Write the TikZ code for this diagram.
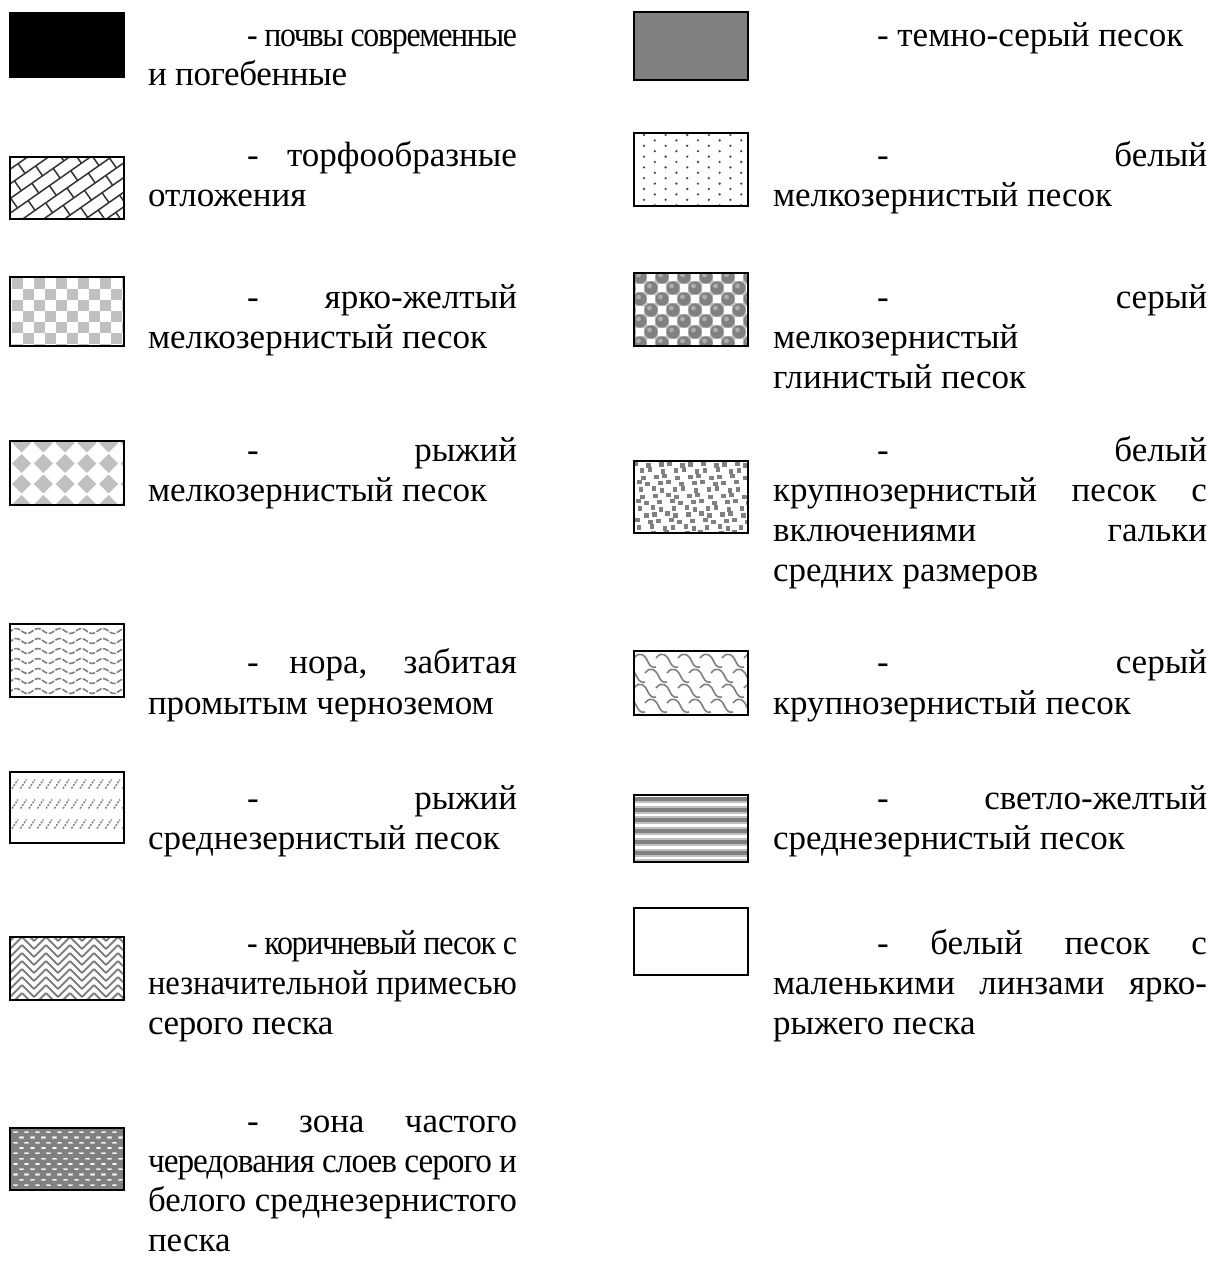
\documentclass[tikz,border=0pt]{standalone}
\usepackage{graphicx}
\usepackage{fontspec}
\setmainfont{Liberation Serif}
\definecolor{dg}{HTML}{808080}
\definecolor{lg}{HTML}{C0C0C0}
\tikzset{
 txt/.style={anchor=base west, inner sep=0pt, outer sep=0pt, font=\fontsize{17.5}{20}\selectfont},
 swb/.style={draw=black, line width=1pt},
}
\newsavebox\tbox
\newcommand\fitl[2]{\sbox\tbox{#2}\ifdim\wd\tbox>#1pt\relax\resizebox{#1pt}{\height}{#2}\else\makebox[#1pt][s]{#2}\fi}
\newcommand\jl[5]{\node[txt] (#1) at (#2,#3) {\fitl{#4}{#5}};}
\newcommand\pl[4]{\node[txt] (#1) at (#2,#3) {#4};}
\newcommand\cnd[1]{\addfontfeature{LetterSpace=#1}}
\begin{document}
\begin{tikzpicture}[x=0.5pt,y=-0.5pt]
\useasboundingbox[fill=white] (0,0) rectangle (1218,1288);

% ---------- left column swatches
\fill[black] (10,13) rectangle (124,77);
\draw[swb] (10,13) rectangle (124,77);

% L2 peat-like (diagonal bricks)
\begin{scope}
\clip (10,157) rectangle (124,219);
\begin{scope}[shift={(67,188)}, rotate=35]
 \foreach \k in {-9,...,9} {
   \draw[black!80, line width=0.75pt] (-130,\k*12) -- (130,\k*12);
   \foreach \m in {-6,...,6} {
     \pgfmathsetmacro\u{\m*26+mod(\k+20,2)*13}
     \draw[black!80, line width=0.75pt] (\u,\k*12) -- (\u,\k*12+12);
   }
 }
\end{scope}
\end{scope}
\draw[swb] (10,157) rectangle (124,219);

% L3 checker
\begin{scope}
\clip (10,277) rectangle (124,346);
\foreach \i in {0,...,10} {
 \foreach \j in {0,...,6} {
  \pgfmathtruncatemacro\p{mod(\i+\j,2)}
  \ifnum\p=0 \fill[lg] (12+\i*11,278+\j*11) rectangle ++(11,11); \fi
 }
}
\end{scope}
\draw[swb] (10,277) rectangle (124,346);

% L4 diamonds
\begin{scope}
\clip (10,441) rectangle (124,505);
\foreach \i in {0,...,6} {
 \foreach \j in {0,...,4} {
  \pgfmathsetmacro\cx{0+\i*21.7}
  \pgfmathsetmacro\cy{443+\j*20.5}
  \fill[lg] (\cx-9.5,\cy) -- (\cx,\cy-9.5) -- (\cx+9.5,\cy) -- (\cx,\cy+9.5) -- cycle;
 }
}
\end{scope}
\draw[swb] (10,441) rectangle (124,505);

% L5 waves
\begin{scope}
\clip (10,624) rectangle (124,697);
\foreach \j in {0,...,7} {
  \pgfmathsetmacro\yy{631+\j*10}
  \draw[dg, line width=0.8pt, dash pattern=on 3pt off 0.8pt] plot[domain=8:130, samples=50] (\x,{\yy+2.5*sin(\x*16.6)});
}
\end{scope}
\draw[swb] (10,624) rectangle (124,697);

% L6 slashes
\begin{scope}
\clip (10,772) rectangle (124,843);
\foreach \j in {0,1,2} {
 \foreach \i in {0,...,13} {
  \pgfmathsetmacro\xx{12+\i*8.5}
  \pgfmathsetmacro\yy{784+\j*20}
  \draw[dg, line width=0.7pt, dash pattern=on 1pt off 0.6pt] (\xx,\yy+4.5) -- (\xx+6,\yy-4.5);
 }
}
\end{scope}
\draw[swb] (10,772) rectangle (124,843);

% L7 herringbone
\begin{scope}
\clip (10,937) rectangle (124,1000);
\foreach \i in {0,...,10} {
 \foreach \j in {-2,...,9} {
  \pgfmathsetmacro\xx{10+\i*12}
  \pgfmathsetmacro\yy{937+\j*8}
  \pgfmathtruncatemacro\p{mod(\i,2)}
  \ifnum\p=0
   \draw[dg, line width=0.9pt] (\xx,\yy+12) -- (\xx+12,\yy);
  \else
   \draw[dg, line width=0.9pt] (\xx,\yy) -- (\xx+12,\yy+12);
  \fi
 }
}
\end{scope}
\draw[swb] (10,937) rectangle (124,1000);

% L8 alternating zone
\begin{scope}
\clip (10,1128) rectangle (124,1190);
\fill[dg] (10,1128) rectangle (124,1190);
\foreach \j in {0,...,11} {
 \foreach \i in {0,...,10} {
  \pgfmathsetmacro\xx{13+\i*11+mod(\j,2)*5.5}
  \pgfmathsetmacro\yy{1131+\j*5.3}
  \fill[lg] (\xx,\yy) rectangle ++(5,2.2);
  \fill[white] (\xx+1,\yy+0.5) rectangle ++(3,1.2);
 }
}
\end{scope}
\draw[swb] (10,1128) rectangle (124,1190);

% ---------- right column swatches
\fill[dg] (634,12) rectangle (748,80);
\draw[swb] (634,12) rectangle (748,80);

% R2 dots
\begin{scope}
\clip (634,133) rectangle (748,206);
\foreach \i in {0,...,10} {
 \foreach \j in {0,...,7} {
  \pgfmathsetmacro\xx{644+\i*10.8}
  \pgfmathsetmacro\yy{135+\j*10.8+mod(\i,2)*5.4}
  \fill[black!70] (\xx,\yy) circle (0.65pt);
 }
}
\end{scope}
\draw[swb] (634,133) rectangle (748,206);

% R3 spheres
\begin{scope}
\clip (634,273) rectangle (748,346);
\fill[lg] (634,273) rectangle (748,346);
\foreach \j in {0,...,7} {
 \foreach \i in {-1,...,5} {
  \pgfmathsetmacro\xx{640+\i*22+mod(\j,2)*11}
  \pgfmathsetmacro\yy{277+\j*11}
  \fill[white] (\xx+7,\yy-4) rectangle (\xx+15,\yy+4);
  \fill[dg] (\xx,\yy) circle (3.3pt);
  \fill[lg!70!dg] (\xx-1.5,\yy-2) circle (1.2pt);
 }
}
\end{scope}
\draw[swb] (634,273) rectangle (748,346);

% R4 coarse sand
\begin{scope}
\clip (634,461) rectangle (748,533);
\foreach \j in {0,...,11} {
 \foreach \i in {0,...,10} {
  \pgfmathsetmacro\xx{635+\i*11+mod(\j,3)*3.7+mod(\i*7+\j*3,5)-2}
  \pgfmathsetmacro\yy{462+\j*6.3+mod(\i*5+\j,3)-1}
  \fill[dg] (\xx,\yy) rectangle ++(4.5,4.5);
 }
}
\end{scope}
\draw[swb] (634,461) rectangle (748,533);

% R5 scales
\begin{scope}
\clip (634,651) rectangle (748,715);
\foreach \j in {0,...,4} {
 \foreach \i in {-1,...,5} {
  \pgfmathsetmacro\xx{634+\i*22+mod(\j,2)*11}
  \pgfmathsetmacro\yy{658+\j*15}
  \draw[dg, line width=0.8pt] (\xx,\yy) .. controls (\xx+6,\yy-8) and (\xx+12,\yy-2) .. (\xx+14,\yy+4) .. controls (\xx+16,\yy+9) and (\xx+20,\yy+10) .. (\xx+22,\yy+9);
 }
}
\end{scope}
\draw[swb] (634,651) rectangle (748,715);

% R6 stripes
\begin{scope}
\clip (634,795) rectangle (748,862);
\foreach \k in {0,...,6} {
  \pgfmathsetmacro\yy{797+\k*10.7}
  \fill[dg] (634,\yy) rectangle (748,\yy+4);
  \fill[lg] (634,\yy+4) rectangle (748,\yy+6);
  \fill[lg] (634,\yy+8.7) rectangle (748,\yy+10.7);
}
\end{scope}
\draw[swb] (634,795) rectangle (748,862);

% R7 white box
\draw[swb] (634,908) rectangle (748,975);

% ---------- left column text
\jl{a1}{247}{47}{135}{\cnd{-4}- почвы современные}
\pl{a2}{148}{86}{\cnd{-1}и погебенные}
\jl{b1}{247}{167}{135}{- торфообразные}
\pl{b2}{148}{207}{отложения}
\jl{c1}{247}{309}{135}{- ярко-желтый}
\pl{c2}{148}{349}{мелкозернистый песок}
\jl{d1}{247}{461}{135}{- рыжий}
\pl{d2}{148}{501}{мелкозернистый песок}
\jl{e1}{247}{673}{135}{- нора, забитая}
\pl{e2}{148}{714}{промытым черноземом}
\jl{f1}{247}{809}{135}{- рыжий}
\pl{f2}{148}{849}{среднезернистый песок}
\jl{g1}{247}{954}{135}{\cnd{-4}- коричневый песок с}
\jl{g2}{148}{994}{184.5}{незначительной примесью}
\pl{g3}{148}{1034}{\cnd{-1}серого песка}
\jl{h1}{247}{1132}{135}{- зона частого}
\jl{h2}{148}{1172}{184.5}{\cnd{-3}чередования слоев серого и}
\jl{h3}{148}{1211}{184.5}{белого среднезернистого}
\pl{h4}{148}{1251}{песка}

% ---------- right column text
\pl{p1}{877}{47}{- темно-серый песок}
\jl{q1}{877}{167}{165}{- белый}
\pl{q2}{773}{207}{мелкозернистый песок}
\jl{r1}{877}{309}{165}{- серый}
\pl{r2}{773}{349}{мелкозернистый}
\pl{r3}{773}{389}{глинистый песок}
\jl{s1}{877}{461}{165}{- белый}
\jl{s2}{773}{501}{217}{крупнозернистый песок с}
\jl{s3}{773}{541}{217}{включениями гальки}
\pl{s4}{773}{581}{средних размеров}
\jl{u1}{877}{673}{165}{- серый}
\pl{u2}{773}{714}{крупнозернистый песок}
\jl{v1}{877}{809}{165}{- светло-желтый}
\pl{v2}{773}{849}{среднезернистый песок}
\jl{w1}{877}{954}{165}{- белый песок с}
\jl{w2}{773}{994}{217}{маленькими линзами ярко-}
\pl{w3}{773}{1034}{рыжего песка}
\end{tikzpicture}
\end{document}
